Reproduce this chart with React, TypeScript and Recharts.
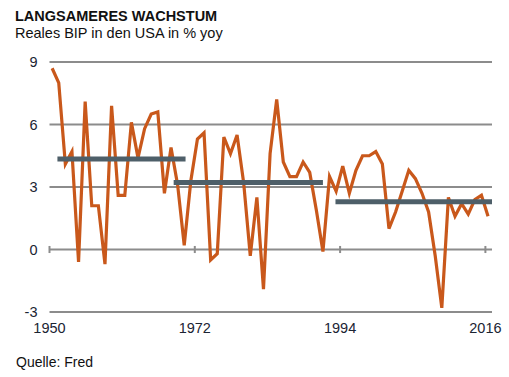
import React from 'react'
import {
    LineChart,
    Line,
    XAxis,
    YAxis,
    CartesianGrid,
    ReferenceLine,
} from 'recharts'

const YEARS = [
    1950, 1951, 1952, 1953, 1954, 1955, 1956, 1957, 1958, 1959,
    1960, 1961, 1962, 1963, 1964, 1965, 1966, 1967, 1968, 1969,
    1970, 1971, 1972, 1973, 1974, 1975, 1976, 1977, 1978, 1979,
    1980, 1981, 1982, 1983, 1984, 1985, 1986, 1987, 1988, 1989,
    1990, 1991, 1992, 1993, 1994, 1995, 1996, 1997, 1998, 1999,
    2000, 2001, 2002, 2003, 2004, 2005, 2006, 2007, 2008, 2009,
    2010, 2011, 2012, 2013, 2014, 2015, 2016,
]
const GROWTH = [
    8.7, 8.0, 4.1, 4.7, -0.6, 7.1, 2.1, 2.1, -0.7, 6.9,
    2.6, 2.6, 6.1, 4.4, 5.8, 6.5, 6.6, 2.7, 4.9, 3.1,
    0.2, 3.3, 5.3, 5.6, -0.5, -0.2, 5.4, 4.6, 5.5, 3.2,
    -0.3, 2.5, -1.9, 4.6, 7.2, 4.2, 3.5, 3.5, 4.2, 3.7,
    1.9, -0.1, 3.5, 2.8, 4.0, 2.7, 3.8, 4.5, 4.5, 4.7,
    4.1, 1.0, 1.8, 2.8, 3.8, 3.4, 2.7, 1.8, -0.3, -2.8,
    2.5, 1.6, 2.2, 1.7, 2.4, 2.6, 1.6,
]

// period averages (grey bars)
const PERIOD_START = [1951.2, 1968.8, 1993.3]
const PERIOD_END = [1970.6, 1991.4, 2017]
const PERIOD_MEAN = [4.35, 3.22, 2.29]

const X_TICKS = [1950, 1972, 1994, 2016]
const Y_TICKS = [-3, 0, 3, 6, 9]

const ORANGE = '#c9581b'
const SLATE = '#4e5f69'
const GRID = '#8c8c8c'
const FONT = '"Liberation Sans", Arial, sans-serif'

// points sit at mid-year
const data = YEARS.map((y, i) => ({ x: y + 0.4, growth: GROWTH[i] }))

const App = () => {
    return (
        <div
            style={{
                position: 'absolute',
                left: 0,
                top: 0,
                width: 509,
                height: 377,
                background: '#fff',
                fontFamily: FONT,
            }}
        >
            <div
                style={{
                    position: 'absolute',
                    left: 15,
                    top: 8,
                    fontSize: 14.5,
                    fontWeight: 'bold',
                    color: '#111',
                }}
            >
                LANGSAMERES WACHSTUM
            </div>
            <div
                style={{
                    position: 'absolute',
                    left: 15,
                    top: 25,
                    fontSize: 14.5,
                    color: '#111',
                }}
            >
                Reales BIP in den USA in % yoy
            </div>

            <div style={{ position: 'absolute', left: 0, top: 0 }}>
                <LineChart
                    width={509}
                    height={377}
                    data={data}
                    margin={{ top: 62, right: 17, bottom: 35, left: 9.5 }}
                >
                    <CartesianGrid
                        vertical={false}
                        stroke={GRID}
                        strokeWidth={2}
                    />
                    <XAxis
                        type="number"
                        dataKey="x"
                        domain={[1950, 2017]}
                        ticks={X_TICKS}
                        axisLine={false}
                        tickLine={false}
                        tickSize={0}
                        tickMargin={11}
                        height={30}
                        tick={{ fill: '#1b2433', fontSize: 14.5, fontFamily: FONT }}
                        interval={0}
                        allowDataOverflow
                    />
                    <YAxis
                        domain={[-3, 9]}
                        ticks={Y_TICKS}
                        axisLine={false}
                        tickLine={false}
                        tickSize={0}
                        tickMargin={12}
                        width={40}
                        tick={{ fill: '#1b2433', fontSize: 14.5, fontFamily: FONT }}
                        interval={0}
                    />
                    {X_TICKS.map((t) => (
                        <ReferenceLine
                            key={'t' + t}
                            segment={[
                                { x: t, y: -0.17 },
                                { x: t, y: 0.17 },
                            ]}
                            stroke={GRID}
                            strokeWidth={2}
                        />
                    ))}
                    <Line
                        type="linear"
                        dataKey="growth"
                        stroke={ORANGE}
                        strokeWidth={3.2}
                        dot={false}
                        isAnimationActive={false}
                    />
                    {PERIOD_MEAN.map((m, i) => (
                        <ReferenceLine
                            key={'p' + i}
                            segment={[
                                { x: PERIOD_START[i], y: m },
                                { x: PERIOD_END[i], y: m },
                            ]}
                            stroke={SLATE}
                            strokeWidth={5}
                        />
                    ))}
                </LineChart>
            </div>

            <div
                style={{
                    position: 'absolute',
                    left: 16,
                    top: 354,
                    fontSize: 14,
                    color: '#111',
                }}
            >
                Quelle: Fred
            </div>
        </div>
    )
}

export default App
